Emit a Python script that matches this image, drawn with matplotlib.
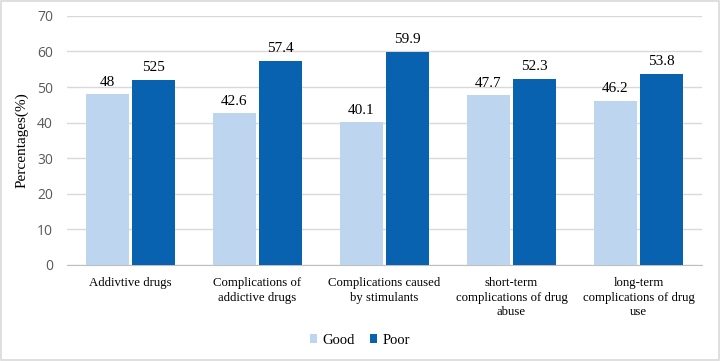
import matplotlib
matplotlib.use("Agg")
import matplotlib.pyplot as plt
import numpy as np
from matplotlib.patches import Rectangle

categories = ["Addivtive drugs", "Complications of\naddictive drugs",
              "Complications caused\nby stimulants",
              "short-term\ncomplications of drug\nabuse",
              "long-term\ncomplications of drug\nuse"]
good = [48, 42.6, 40.1, 47.7, 46.2]
poor = [52, 57.4, 59.9, 52.3, 53.8]
good_labels = ["48", "42.6", "40.1", "47.7", "46.2"]
poor_labels = ["525", "57.4", "59.9", "52.3", "53.8"]
yticks = [0, 10, 20, 30, 40, 50, 60, 70]

serif = "Liberation Serif"
fig = plt.figure(figsize=(7.2, 3.61), dpi=100)
ax = fig.add_axes([0.093, 0.266, 0.882, 0.690])

x = np.arange(len(categories))
w = 0.339
gap = 0.012
c_good = "#BDD5EE"
c_poor = "#0862AF"
b1 = ax.bar(x - w/2 - gap, good, w, color=c_good, label="Good", zorder=3)
b2 = ax.bar(x + w/2 + gap, poor, w, color=c_poor, label="Poor", zorder=3)

for bars, labs in ((b1, good_labels), (b2, poor_labels)):
    for r, t in zip(bars, labs):
        ax.annotate(t, (r.get_x() + r.get_width()/2, r.get_height()),
                    xytext=(0, 4), textcoords="offset points",
                    ha="center", va="bottom", fontsize=11, family=serif, color="#000000")

ax.set_xlim(-0.5, len(categories) - 0.5)
ax.set_ylim(0, 70)
ax.set_yticks(yticks)
ax.set_yticklabels([str(v) for v in yticks], fontsize=10, color="#595959", family="Open Sans")
ax.set_xticks(x)
ax.set_xticklabels(categories, fontsize=9.2, family=serif, linespacing=1.25)
ax.tick_params(axis="x", length=0, pad=9)
ax.tick_params(axis="y", length=0, pad=10)
ax.yaxis.grid(True, color="#D9D9D9", linewidth=1, zorder=0)
for s in ["top", "right", "left"]:
    ax.spines[s].set_visible(False)
ax.spines["bottom"].set_color("#BFBFBF")
ax.set_ylabel("Percentages(%)", fontsize=11, family=serif, labelpad=6)

leg = fig.legend(handles=[b1, b2], labels=["Good", "Poor"], loc="center",
                 bbox_to_anchor=(0.5, 0.058), ncol=2, frameon=False,
                 prop={"family": serif, "size": 10.5}, handlelength=0.5,
                 handleheight=0.5, handletextpad=0.4, columnspacing=1.0)

fig.patches.append(Rectangle((0.002, 0.003), 0.996, 0.994, transform=fig.transFigure,
                             fill=False, edgecolor="#D9D9D9", linewidth=1.2))
fig.savefig("out.png", dpi=100)
